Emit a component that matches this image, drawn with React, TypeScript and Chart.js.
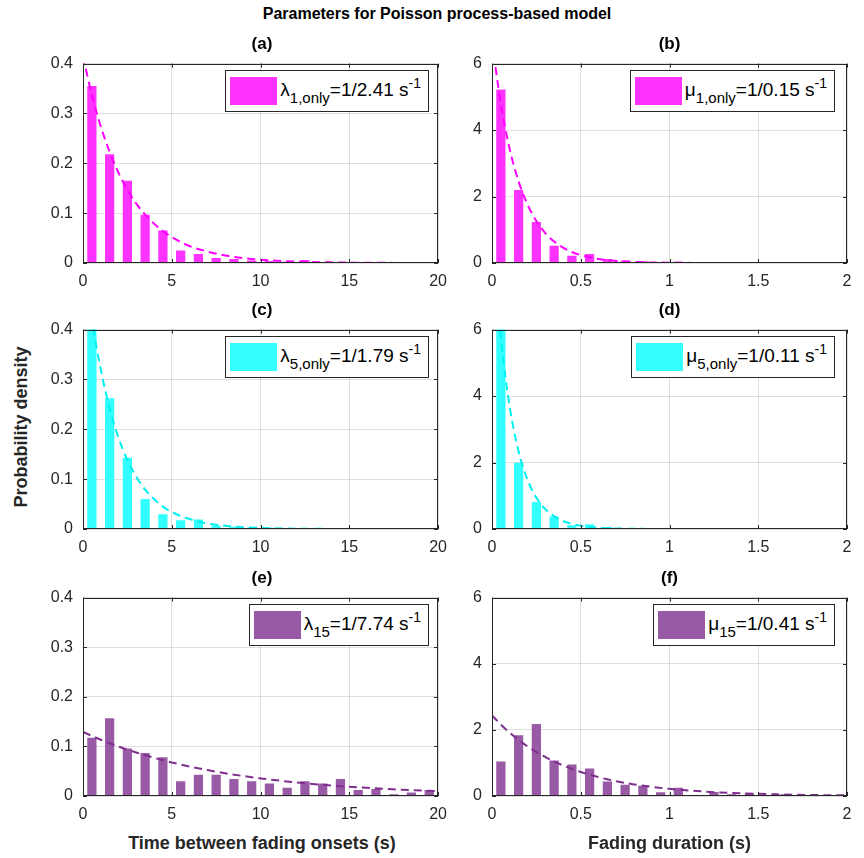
import React, { useEffect, useRef } from "react";
import { Chart, registerables } from "chart.js";

Chart.register(...registerables);

// ---------- data ----------
const onsetBinCenters = [0.5, 1.5, 2.5, 3.5, 4.5, 5.5, 6.5, 7.5, 8.5, 9.5, 10.5, 11.5, 12.5, 13.5, 14.5, 15.5, 16.5, 17.5, 18.5, 19.5];
const durationBinCenters = [0.05, 0.15, 0.25, 0.35, 0.45, 0.55, 0.65, 0.75, 0.85, 0.95, 1.05, 1.15, 1.25, 1.35, 1.45, 1.55, 1.65, 1.75, 1.85, 1.95];

const onsetCurveX = [0, 0.5, 1, 1.5, 2, 2.5, 3, 3.5, 4, 4.5, 5, 6, 7, 8, 9, 10, 12, 14, 16, 18, 20];
const durationCurveX = [0, 0.05, 0.1, 0.15, 0.2, 0.25, 0.3, 0.35, 0.4, 0.45, 0.5, 0.6, 0.7, 0.8, 0.9, 1.0, 1.2, 1.4, 1.6, 1.8, 2.0];

// (a) lambda_1,only
const barsA = [0.355, 0.218, 0.165, 0.097, 0.065, 0.025, 0.018, 0.010, 0.008, 0.005, 0.004, 0.003, 0.006, 0.002, 0.002, 0.001, 0.001, 0.001, 0.001, 0.001];
const curveA = [0.415, 0.337, 0.274, 0.223, 0.181, 0.147, 0.119, 0.097, 0.079, 0.064, 0.052, 0.034, 0.023, 0.015, 0.010, 0.0065, 0.0028, 0.0013, 0.0005, 0.0002, 0.0001];
// (b) mu_1,only
const barsB = [5.22, 2.2, 1.23, 0.52, 0.22, 0.27, 0.12, 0.07, 0.05, 0.03, 0.04, 0.02, 0.01, 0.01, 0.01, 0.005, 0.005, 0.005, 0.005, 0.005];
const curveB = [6.67, 4.78, 3.42, 2.45, 1.76, 1.26, 0.90, 0.645, 0.462, 0.331, 0.237, 0.122, 0.063, 0.032, 0.0165, 0.0085, 0.0022, 0.0006, 0.0002, 0, 0];
// (c) lambda_5,only
const barsC = [0.41, 0.2625, 0.143, 0.060, 0.0295, 0.0177, 0.019, 0.0072, 0.0046, 0.003, 0.0026, 0.0015, 0.0012, 0.001, 0.001, 0.001, 0.0008, 0.0008, 0.0008, 0.0008];
const curveC = [0.559, 0.422, 0.320, 0.242, 0.183, 0.138, 0.105, 0.079, 0.060, 0.045, 0.034, 0.020, 0.011, 0.0064, 0.0037, 0.0021, 0.0007, 0.0002, 0.0001, 0, 0];
// (d) mu_5,only
const barsD = [6.3, 1.99, 0.815, 0.373, 0.11, 0.14, 0.06, 0.02, 0.01, 0.01, 0.005, 0.005, 0.005, 0.005, 0.005, 0.005, 0.005, 0.005, 0.005, 0.005];
const curveD = [9.09, 5.77, 3.67, 2.33, 1.48, 0.94, 0.597, 0.379, 0.24, 0.153, 0.097, 0.039, 0.0157, 0.0063, 0.0025, 0.001, 0.0002, 0, 0, 0, 0];
// (e) lambda_15
const barsE = [0.1175, 0.157, 0.0957, 0.0865, 0.078, 0.0297, 0.0429, 0.0429, 0.0343, 0.0297, 0.025, 0.0165, 0.0297, 0.025, 0.0343, 0.0119, 0.0139, 0.0033, 0.0073, 0.0119];
const curveE = [0.1292, 0.1211, 0.1135, 0.1064, 0.0998, 0.0935, 0.0877, 0.0822, 0.0771, 0.0722, 0.0677, 0.0595, 0.0523, 0.0459, 0.0404, 0.0355, 0.0274, 0.0212, 0.0164, 0.0126, 0.0098];
// (f) mu_15
const barsF = [1.04, 1.835, 2.18, 1.07, 0.95, 0.83, 0.44, 0.34, 0.31, 0.11, 0.25, 0.03, 0.12, 0.05, 0.08, 0.03, 0.05, 0.03, 0.03, 0.03];
const curveF = [2.44, 2.16, 1.915, 1.695, 1.50, 1.33, 1.18, 1.04, 0.926, 0.82, 0.727, 0.57, 0.448, 0.351, 0.276, 0.2165, 0.133, 0.082, 0.0506, 0.031, 0.019];

const FONT = "'Liberation Sans', Arial, Helvetica, sans-serif";
const AX = "#262626";

const boxPlugin = {
  id: "matlabBox",
  afterDatasetsDraw(chart: any) {
    const { ctx, chartArea } = chart;
    const { left, right, top, bottom } = chartArea;
    const xs = chart.scales.x;
    const ys = chart.scales.y;
    const tl = 4;
    ctx.save();
    ctx.strokeStyle = AX;
    ctx.lineWidth = 1;
    ctx.beginPath();
    xs.ticks.forEach((t: any) => {
      const px = Math.round(xs.getPixelForValue(t.value)) + 0.5;
      ctx.moveTo(px, bottom);
      ctx.lineTo(px, bottom - tl);
      ctx.moveTo(px, top);
      ctx.lineTo(px, top + tl);
    });
    ys.ticks.forEach((t: any) => {
      const py = Math.round(ys.getPixelForValue(t.value)) + 0.5;
      ctx.moveTo(left, py);
      ctx.lineTo(left + tl, py);
      ctx.moveTo(right, py);
      ctx.lineTo(right - tl, py);
    });
    ctx.stroke();
    const l = Math.round(left) + 0.5;
    const t = Math.round(top) + 0.5;
    const r = Math.round(right) - 0.5;
    const b = Math.round(bottom) - 0.5;
    ctx.strokeRect(l, t, r - l, b - t);
    ctx.restore();
  },
};

type PanelDef = {
  id: string;
  left: number;
  top: number;
  width: number;
  height: number;
  xMax: number;
  xStep: number;
  yMax: number;
  yStep: number;
  barX: number[];
  barY: number[];
  curveX: number[];
  curveY: number[];
  barColor: string;
  lineColor: string;
  greek: string;
  sub: string;
  value: string;
  xLabel?: string;
};

const PAD_L = 60;
const PAD_T = 15;
const PAD_R = 15;
const PAD_B = 30;

const fmt = (v: any) => String(+Number(v).toFixed(4));

function Panel({ p }: { p: PanelDef }) {
  const ref = useRef<HTMLCanvasElement>(null);
  useEffect(() => {
    if (!ref.current) return;
    const chart = new Chart(ref.current, {
      type: "bar",
      data: {
        datasets: [
          {
            type: "line",
            data: p.curveX.map((x, i) => ({ x, y: p.curveY[i] })),
            borderColor: p.lineColor,
            borderWidth: 2,
            borderDash: [8, 5],
            pointRadius: 0,
            fill: false,
            cubicInterpolationMode: "monotone",
            order: 0,
          } as any,
          {
            type: "bar",
            data: p.barX.map((x, i) => ({ x, y: p.barY[i] })),
            backgroundColor: p.barColor,
            borderWidth: 0,
            barPercentage: 0.52,
            categoryPercentage: 1,
            order: 1,
          } as any,
        ],
      },
      options: {
        responsive: false,
        animation: false,
        devicePixelRatio: 1,
        layout: { padding: { left: 0, top: PAD_T, right: PAD_R, bottom: 0 } },
        plugins: {
          legend: { display: false },
          tooltip: { enabled: false },
          title: { display: false },
        },
        scales: {
          x: {
            type: "linear",
            min: 0,
            max: p.xMax,
            offset: false,
            grid: { color: "rgba(38,38,38,0.15)", drawTicks: false, offset: false },
            border: { display: false },
            ticks: {
              stepSize: p.xStep,
              color: AX,
              font: { family: FONT, size: 16 },
              padding: 9,
              maxRotation: 0,
              autoSkip: false,
              callback: fmt,
            },
            afterFit: (s: any) => {
              s.height = PAD_B;
            },
          },
          y: {
            type: "linear",
            min: 0,
            max: p.yMax,
            grid: { color: "rgba(38,38,38,0.15)", drawTicks: false },
            border: { display: false },
            ticks: {
              stepSize: p.yStep,
              color: AX,
              font: { family: FONT, size: 16 },
              padding: 10,
              autoSkip: false,
              callback: fmt,
            },
            afterFit: (s: any) => {
              s.width = PAD_L;
            },
          },
        },
      } as any,
      plugins: [boxPlugin],
    });
    return () => chart.destroy();
  }, []);
  const cw = p.width + PAD_L + PAD_R;
  const ch = p.height + PAD_T + PAD_B;
  return (
    <>
      <canvas
        ref={ref}
        width={cw}
        height={ch}
        style={{ position: "absolute", left: p.left - PAD_L, top: p.top - PAD_T, width: cw, height: ch }}
      />
      <div
        style={{
          position: "absolute",
          left: p.left,
          width: p.width,
          top: p.top - 25,
          lineHeight: "20px",
          textAlign: "center",
          fontFamily: FONT,
          fontWeight: "bold",
          fontSize: 17,
          color: "#000",
        }}
      >
        ({p.id})
      </div>
      <div
        style={{
          position: "absolute",
          right: 864 - (p.left + p.width) + 12,
          top: p.top + 11,
          height: 40,
          border: `1px solid ${AX}`,
          background: "#fff",
          display: "flex",
          alignItems: "center",
          padding: "0 7px 0 4px",
          fontFamily: FONT,
          fontSize: 19,
          color: "#000",
          whiteSpace: "nowrap",
        }}
      >
        <div style={{ width: 47, height: 28, background: p.barColor, marginRight: 3 }} />
        <span style={{ position: "relative", top: -1 }}>
          {p.greek}
          <span style={{ fontSize: 15, position: "relative", top: 7 }}>{p.sub}</span>
          {p.value}
          <span style={{ fontSize: 14, position: "relative", top: -8 }}>-1</span>
        </span>
      </div>
      {p.xLabel ? (
        <div
          style={{
            position: "absolute",
            left: p.left - 40,
            width: p.width + 80,
            top: p.top + p.height + 37,
            lineHeight: "20px",
            textAlign: "center",
            fontFamily: FONT,
            fontWeight: "bold",
            fontSize: 18,
            color: AX,
          }}
        >
          {p.xLabel}
        </div>
      ) : null}
    </>
  );
}

const MAGENTA_BAR = "#ff33ff";
const MAGENTA_LINE = "#ff00ff";
const CYAN_BAR = "#33ffff";
const CYAN_LINE = "#00f0f0";
const PURPLE_BAR = "#985aa4";
const PURPLE_LINE = "#7e2f8e";

const LEFT_X = 83;
const RIGHT_X = 492;
const LEFT_W = 358;
const RIGHT_W = 355;

const panels: PanelDef[] = [
  { id: "a", left: LEFT_X, top: 59, width: LEFT_W, height: 204, xMax: 20, xStep: 5, yMax: 0.4, yStep: 0.1, barX: onsetBinCenters, barY: barsA, curveX: onsetCurveX, curveY: curveA, barColor: MAGENTA_BAR, lineColor: MAGENTA_LINE, greek: "λ", sub: "1,only", value: "=1/2.41 s" },
  { id: "b", left: RIGHT_X, top: 59, width: RIGHT_W, height: 204, xMax: 2, xStep: 0.5, yMax: 6, yStep: 2, barX: durationBinCenters, barY: barsB, curveX: durationCurveX, curveY: curveB, barColor: MAGENTA_BAR, lineColor: MAGENTA_LINE, greek: "μ", sub: "1,only", value: "=1/0.15 s" },
  { id: "c", left: LEFT_X, top: 325, width: LEFT_W, height: 204, xMax: 20, xStep: 5, yMax: 0.4, yStep: 0.1, barX: onsetBinCenters, barY: barsC, curveX: onsetCurveX, curveY: curveC, barColor: CYAN_BAR, lineColor: CYAN_LINE, greek: "λ", sub: "5,only", value: "=1/1.79 s" },
  { id: "d", left: RIGHT_X, top: 325, width: RIGHT_W, height: 204, xMax: 2, xStep: 0.5, yMax: 6, yStep: 2, barX: durationBinCenters, barY: barsD, curveX: durationCurveX, curveY: curveD, barColor: CYAN_BAR, lineColor: CYAN_LINE, greek: "μ", sub: "5,only", value: "=1/0.11 s" },
  { id: "e", left: LEFT_X, top: 593, width: LEFT_W, height: 203, xMax: 20, xStep: 5, yMax: 0.4, yStep: 0.1, barX: onsetBinCenters, barY: barsE, curveX: onsetCurveX, curveY: curveE, barColor: PURPLE_BAR, lineColor: PURPLE_LINE, greek: "λ", sub: "15", value: "=1/7.74 s", xLabel: "Time between fading onsets (s)" },
  { id: "f", left: RIGHT_X, top: 593, width: RIGHT_W, height: 203, xMax: 2, xStep: 0.5, yMax: 6, yStep: 2, barX: durationBinCenters, barY: barsF, curveX: durationCurveX, curveY: curveF, barColor: PURPLE_BAR, lineColor: PURPLE_LINE, greek: "μ", sub: "15", value: "=1/0.41 s", xLabel: "Fading duration (s)" },
];

export default function App() {
  return (
    <div style={{ position: "absolute", left: 0, top: 0, width: 864, height: 858, background: "#fff", overflow: "hidden" }}>
      <div
        style={{
          position: "absolute",
          left: 5,
          width: 864,
          top: 4,
          lineHeight: "20px",
          textAlign: "center",
          fontFamily: FONT,
          fontWeight: "bold",
          fontSize: 16,
          color: "#000",
        }}
      >
        Parameters for Poisson process-based model
      </div>
      <div
        style={{
          position: "absolute",
          left: 21 - 120,
          top: 427 - 10,
          width: 240,
          lineHeight: "20px",
          textAlign: "center",
          transform: "rotate(-90deg)",
          fontFamily: FONT,
          fontWeight: "bold",
          fontSize: 18,
          color: AX,
        }}
      >
        Probability density
      </div>
      {panels.map((p) => (
        <Panel key={p.id} p={p} />
      ))}
    </div>
  );
}
